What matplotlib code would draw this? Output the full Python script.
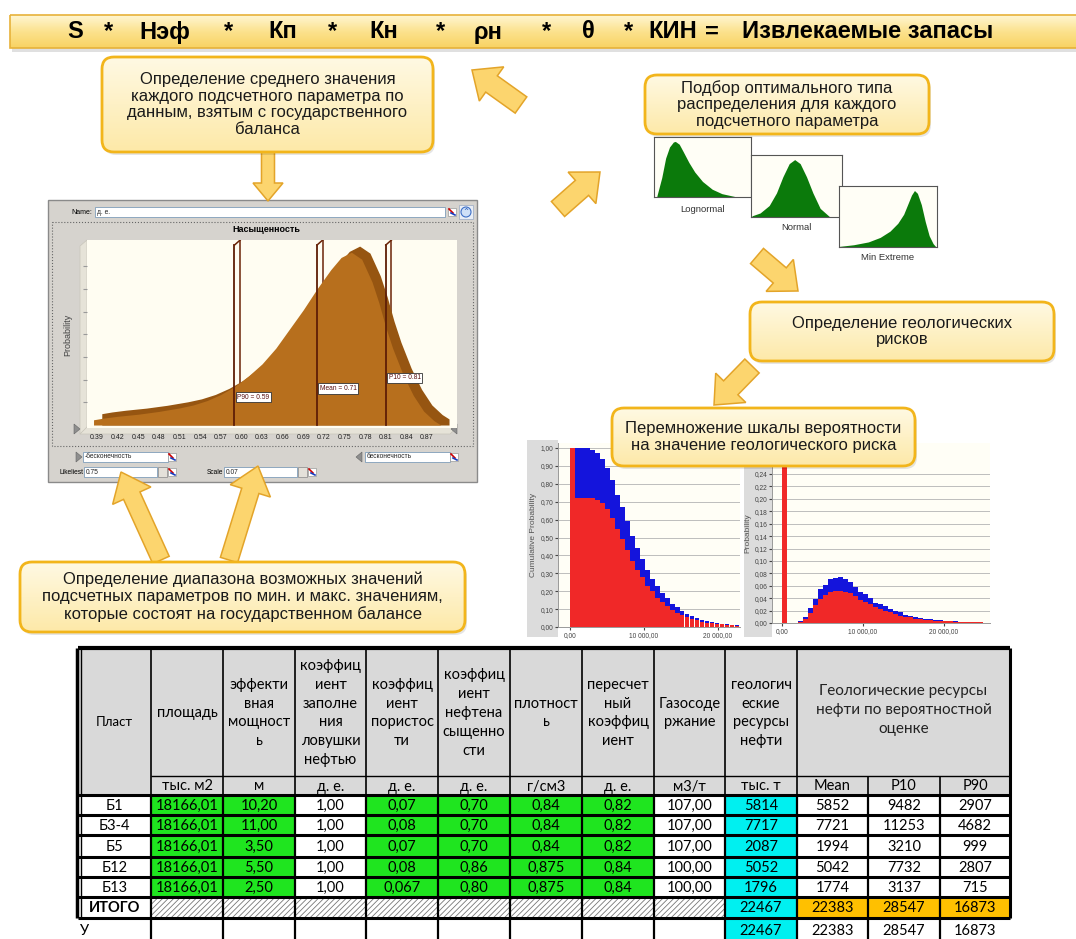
import numpy as np
import matplotlib.pyplot as plt
from matplotlib.patches import Rectangle, FancyBboxPatch, Polygon, Circle
from matplotlib.colors import LinearSegmentedColormap

W, H = 1076, 939
plt.rcParams['font.family'] = ['Liberation Sans', 'DejaVu Sans']
plt.rcParams['hatch.linewidth'] = 0.6

# formula banner
formula_parts = ['S', '*', 'Нэф', '*', 'Кп', '*', 'Кн', '*', 'ρн', '*', 'θ', '*', 'КИН', '=']
formula_pos = [75, 108, 165, 228, 283, 333, 384, 440, 488, 546, 588, 628, 673, 712]
formula_result = 'Извлекаемые запасы'

# saturation distribution (Min Extreme)
sat_title = 'Насыщенность'
sat_x = [0.385, 0.40, 0.42, 0.45, 0.48, 0.51, 0.53, 0.55, 0.57, 0.59, 0.61, 0.63, 0.65, 0.67, 0.69,
         0.71, 0.73, 0.745, 0.76, 0.775, 0.79, 0.80, 0.81, 0.82, 0.835, 0.85, 0.865, 0.88, 0.89]
sat_p = [0.03, 0.04, 0.05, 0.062, 0.078, 0.098, 0.115, 0.14, 0.175, 0.22, 0.28, 0.35, 0.44, 0.55, 0.66,
         0.78, 0.89, 0.96, 0.99, 0.95, 0.82, 0.70, 0.56, 0.44, 0.29, 0.17, 0.08, 0.025, 0.0]
sat_ticks = [0.39, 0.42, 0.45, 0.48, 0.51, 0.54, 0.57, 0.60, 0.63, 0.66, 0.69, 0.72, 0.75, 0.78, 0.81, 0.84, 0.87]
sat_marks = ['P90', 'Mean', 'P10']
sat_mark_vals = [0.59, 0.71, 0.81]
likeliest = '0.75'
scale = '0.07'

# distribution type thumbnails (fraction of width, relative height)
logn_x = [0.03, 0.08, 0.12, 0.16, 0.20, 0.22, 0.26, 0.30, 0.36, 0.42, 0.50, 0.60, 0.70, 0.83]
logn_y = [0.02, 0.35, 0.70, 0.90, 0.99, 1.00, 0.95, 0.82, 0.62, 0.45, 0.28, 0.14, 0.06, 0.01]
norm_x = [0.01, 0.10, 0.20, 0.28, 0.35, 0.42, 0.48, 0.54, 0.61, 0.68, 0.76, 0.86]
norm_y = [0.02, 0.07, 0.20, 0.42, 0.70, 0.93, 1.00, 0.93, 0.70, 0.42, 0.15, 0.01]
mext_x = [0.0, 0.15, 0.30, 0.42, 0.52, 0.60, 0.66, 0.70, 0.74, 0.77, 0.80, 0.84, 0.88, 0.92, 0.96, 0.99]
mext_y = [0.01, 0.04, 0.09, 0.17, 0.28, 0.42, 0.58, 0.75, 0.92, 1.00, 0.95, 0.75, 0.45, 0.20, 0.06, 0.0]

# reserves simulation: cumulative probability (total / with risk)
cum_total = [1.00, 1.00, 1.00, 1.00, 0.99, 0.97, 0.94, 0.89, 0.82, 0.74, 0.67, 0.59, 0.51, 0.44, 0.38, 0.32, 0.27,
             0.23, 0.19, 0.16, 0.13, 0.11, 0.09, 0.075, 0.06, 0.05, 0.04, 0.034, 0.028, 0.023, 0.019, 0.016, 0.013, 0.01]
cum_risk = [1.00, 0.72, 0.72, 0.72, 0.72, 0.71, 0.69, 0.66, 0.61, 0.55, 0.49, 0.43, 0.37, 0.32, 0.28, 0.23, 0.20,
            0.16, 0.14, 0.115, 0.095, 0.08, 0.065, 0.055, 0.045, 0.037, 0.03, 0.025, 0.02, 0.017, 0.014, 0.012, 0.01, 0.008]
cum_bin = 675

# reserves simulation: probability per bin
zero_prob = 0.28
prob_total = [0.003, 0.01, 0.024, 0.039, 0.055, 0.062, 0.071, 0.072, 0.074, 0.071, 0.066, 0.058, 0.05, 0.046, 0.04,
              0.033, 0.03, 0.027, 0.023, 0.019, 0.017, 0.013, 0.012, 0.01, 0.008, 0.007, 0.006, 0.005, 0.005, 0.004,
              0.003, 0.003, 0.002, 0.002, 0.002, 0.001, 0.001]
prob_risk = [0.002, 0.006, 0.016, 0.029, 0.039, 0.045, 0.05, 0.052, 0.052, 0.05, 0.048, 0.043, 0.037, 0.034, 0.03,
             0.025, 0.022, 0.02, 0.017, 0.014, 0.012, 0.01, 0.009, 0.007, 0.006, 0.005, 0.0045, 0.004, 0.004, 0.003,
             0.0025, 0.002, 0.002, 0.0015, 0.0015, 0.001, 0.001]
prob_start, prob_bin = 1975, 617

# table
head = ['Пласт', 'площадь', 'эффекти\nвная\nмощност\nь', 'коэффиц\nиент\nзаполне\nния\nловушки\nнефтью',
        'коэффиц\nиент\nпористос\nти', 'коэффиц\nиент\nнефтена\nсыщенно\nсти', 'плотност\nь',
        'пересчет\nный\nкоэффиц\nиент', 'Газосоде\nржание', 'геологич\nеские\nресурсы\nнефти']
head_prob = 'Геологические ресурсы\nнефти по вероятностной\nоценке'
units = ['тыс. м2', 'м', 'д. е.', 'д. е.', 'д. е.', 'г/см3', 'д. е.', 'м3/т', 'тыс. т', 'Mean', 'P10', 'P90']
layers = ['Б1', 'Б3-4', 'Б5', 'Б12', 'Б13']
area = ['18166,01', '18166,01', '18166,01', '18166,01', '18166,01']
thickness = ['10,20', '11,00', '3,50', '5,50', '2,50']
fill_coef = ['1,00', '1,00', '1,00', '1,00', '1,00']
porosity = ['0,07', '0,08', '0,07', '0,08', '0,067']
saturation = ['0,70', '0,70', '0,70', '0,86', '0,80']
density = ['0,84', '0,84', '0,84', '0,875', '0,875']
conversion = ['0,82', '0,82', '0,82', '0,84', '0,84']
gas = ['107,00', '107,00', '107,00', '100,00', '100,00']
geo_res = [5814, 7717, 2087, 5052, 1796]
res_mean = [5852, 7721, 1994, 5042, 1774]
res_p10 = [9482, 11253, 3210, 7732, 3137]
res_p90 = [2907, 4682, 999, 2807, 715]
total = [22467, 22383, 28547, 16873]

GREEN, CYAN, ORANGE, GREY = '#1FE51F', '#00F0F0', '#FFC000', '#D9D9D9'

fig = plt.figure(figsize=(W / 100, H / 100), dpi=100)
base = fig.add_axes([0, 0, 1, 1])
base.set_xlim(0, W)
base.set_ylim(H, 0)
base.axis('off')


def px_axes(x0, y0, x1, y1, **kw):
    return fig.add_axes([x0 / W, 1 - y1 / H, (x1 - x0) / W, (y1 - y0) / H], **kw)


def icon(ax, x, y):
    ax.add_patch(Rectangle((x - 4, y - 4), 8, 8, fc='white', ec='#999', lw=0.5))
    ax.plot([x - 3, x + 1], [y - 3, y + 1], color='#C00', lw=1.2)
    ax.plot([x - 1, x + 3], [y + 1, y + 3], color='#1A3FBF', lw=1.2)


def tri(ax, x, y, right=True):
    d = 6 if right else -6
    ax.add_patch(Polygon([(x, y - 5), (x + d, y), (x, y + 5)], fc='#8E8E8E', ec='#666', lw=0.4))


def field(ax, x0, y0, w, h, txt):
    ax.add_patch(Rectangle((x0, y0), w, h, fc='white', ec='#7F9DB9', lw=0.6))
    ax.text(x0 + 2, y0 + h / 2, txt, fontsize=4.8, va='center', color='#222')


# ---------- software window ----------
base.add_patch(Rectangle((48, 200), 429, 282, fc='#D6D3CE', ec='#8A8A8A', lw=1))
base.text(92, 212, 'Name:', fontsize=5, ha='right', va='center')
field(base, 95, 207, 350, 10, 'д. е.')
icon(base, 452, 212)
base.add_patch(Rectangle((459, 205), 14, 14, fc='#E9EEF6', ec='#9AA9C2', lw=0.5))
base.add_patch(Circle((466, 212), 5, fc='#CFE0F7', ec='#3D6FC6', lw=0.8))
base.text(466, 212, '⌃', fontsize=6, ha='center', va='center', color='#2A5DB8', family='DejaVu Sans')
base.add_patch(Rectangle((52, 222), 421, 224, fill=False, ls=':', ec='#666', lw=0.8))
base.text(266, 229, sat_title, fontsize=6.5, weight='bold', ha='center', va='center')
base.text(68, 335, 'Probability', rotation=90, fontsize=6.5, color='#444', ha='center', va='center')
base.add_patch(Polygon([(80, 246), (87, 240), (87, 428), (80, 434)], fc='#E6E3D8', ec='#C8C5BA', lw=0.5))
base.add_patch(Polygon([(80, 434), (87, 427), (457, 427), (450, 434)], fc='#E6E3D8', ec='#C8C5BA', lw=0.5))
tri(base, 74, 429, True)
tri(base, 457, 429, False)

dax = px_axes(87, 240, 457, 428)
dax.set_facecolor('#FFFDF2')
sx, sp = np.array(sat_x), np.array(sat_p)
dax.fill_between(sx + 0.012, sp + 0.035, 0, color='#965511', lw=0, zorder=2)
dax.fill_between(sx, sp, 0, color='#B76F1D', lw=0, zorder=3)
for name, v, ly in zip(sat_marks, sat_mark_vals, [0.16, 0.21, 0.27]):
    dax.plot([v + 0.0083, v + 0.0083], [0.2, 1.06], color='#6B2408', lw=1.1, zorder=1.5)
    dax.plot([v, v], [0, 1.031], color='#5E1E06', lw=1.3, zorder=4)
    dax.plot([v, v + 0.0083], [1.031, 1.06], color='#6B2408', lw=1.1, zorder=4)
    dax.text(v + 0.004, ly, f'{name} = {v:.2f}', fontsize=4.8, color='#5A1010', va='center', zorder=5,
             bbox=dict(fc='white', ec='#333', lw=0.6, pad=1.2))
dax.set_xlim(0.3755, 0.9136)
dax.set_ylim(-0.017, 1.06)
dax.set_xticks(sat_ticks, labels=[f'{t:.2f}' for t in sat_ticks], fontsize=5)
dax.set_yticks(np.arange(0.13, 1.0, 0.13))
dax.tick_params(axis='x', length=0, pad=4, colors='#222')
dax.tick_params(axis='y', length=3, color='#999', labelleft=False)
for s in dax.spines.values():
    s.set_visible(False)

tri(base, 76, 457, True)
field(base, 83, 452, 85, 10, '-бесконечность')
icon(base, 172, 457)
tri(base, 362, 457, False)
field(base, 365, 452, 85, 10, 'бесконечность')
icon(base, 454, 457)
base.text(83, 472, 'Likeliest', fontsize=4.8, ha='right', va='center')
field(base, 84, 467, 73, 10, likeliest)
base.add_patch(Rectangle((158, 467), 9, 10, fc='#E4E1DA', ec='#888', lw=0.5))
icon(base, 172, 472)
base.text(223, 472, 'Scale', fontsize=4.8, ha='right', va='center')
field(base, 224, 467, 73, 10, scale)
base.add_patch(Rectangle((298, 467), 9, 10, fc='#E4E1DA', ec='#888', lw=0.5))
icon(base, 312, 472)

# ---------- distribution thumbnails ----------
for (x0, y0, x1, y1), xs, ys, lab, ly in [((654, 137, 751, 197), logn_x, logn_y, 'Lognormal', 209),
                                          ((751, 155, 842, 217), norm_x, norm_y, 'Normal', 228),
                                          ((839, 186, 937, 247), mext_x, mext_y, 'Min Extreme', 258)]:
    tax = px_axes(x0, y0, x1, y1)
    tax.set_facecolor('#FFFEF6')
    tax.fill_between(xs, ys, 0, color='#0B7A0B', lw=0)
    tax.set_xlim(0, 1)
    tax.set_ylim(0, 1.08)
    tax.set_xticks([])
    tax.set_yticks([])
    for s in tax.spines.values():
        s.set_color('#555')
        s.set_linewidth(0.8)
    base.text((x0 + x1) / 2, ly, lab, fontsize=6.8, ha='center', va='center', color='#333')

# ---------- simulation charts ----------
base.add_patch(Rectangle((527, 440), 31, 197, fc='#DCDCDC', lw=0))
base.add_patch(Rectangle((744, 440), 28, 197, fc='#DCDCDC', lw=0))


def style_hist(ax):
    ax.set_facecolor('#FFFEF6')
    ax.yaxis.grid(True, color='#BDBDBD', lw=0.7)
    ax.set_axisbelow(True)
    for k in ['top', 'right']:
        ax.spines[k].set_visible(False)
    for k in ['left', 'bottom']:
        ax.spines[k].set_color('#999')
        ax.spines[k].set_linewidth(0.7)
    ax.tick_params(labelsize=4.8, length=2, colors='#444', pad=1.5)


hax1 = px_axes(558, 443, 740, 627)
left1 = np.arange(len(cum_total)) * cum_bin
hax1.bar(left1, cum_total, width=cum_bin * 0.96, align='edge', color='#1414DC', lw=0)
hax1.bar(left1, cum_risk, width=cum_bin * 0.96, align='edge', color='#F02828', lw=0)
hax1.set_xlim(-1600, 23000)
hax1.set_ylim(0, 1.028)
yt = np.round(np.arange(0, 1.001, 0.1), 2)
hax1.set_yticks(yt, labels=[f'{v:.2f}'.replace('.', ',') for v in yt])
hax1.set_xticks([0, 10000, 20000], labels=['0,00', '10 000,00', '20 000,00'])
hax1.set_ylabel('Cumulative Probability', fontsize=6, color='#555', labelpad=2)
style_hist(hax1)

hax2 = px_axes(772, 443, 990, 623)
left2 = prob_start + np.arange(len(prob_total)) * prob_bin
hax2.bar([0], [zero_prob], width=650, align='edge', color='#F02828', lw=0)
hax2.bar(left2, prob_total, width=prob_bin * 0.96, align='edge', color='#1414DC', lw=0)
hax2.bar(left2, prob_risk, width=prob_bin * 0.96, align='edge', color='#F02828', lw=0)
hax2.set_xlim(-1235, 25680)
hax2.set_ylim(0, 0.29)
yt2 = np.round(np.arange(0, 0.241, 0.02), 2)
hax2.set_yticks(yt2, labels=[f'{v:.2f}'.replace('.', ',') for v in yt2])
hax2.set_xticks([0, 10000, 20000], labels=['0,00', '10 000,00', '20 000,00'])
hax2.set_ylabel('Probability', fontsize=6, color='#555', labelpad=2)
style_hist(hax2)

# ---------- table ----------
cx = [78, 151, 223, 295, 366, 438, 510, 582, 654, 725, 797, 868, 940, 1010]
ry = [648, 776, 795, 815, 835, 857, 877, 897, 918, 942]
tfont = ['Lato', 'DejaVu Sans']
fs_cell = 10.5
base.add_patch(Rectangle((cx[0], ry[0]), cx[-1] - cx[0], ry[2] - ry[0], fc=GREY, lw=0))
cols = [layers, area, thickness, fill_coef, porosity, saturation, density, conversion, gas,
        geo_res, res_mean, res_p10, res_p90]
fills = ['white', GREEN, GREEN, 'white', GREEN, GREEN, GREEN, GREEN, 'white', CYAN, 'white', 'white', 'white']
for r in range(len(layers)):
    y0, y1 = ry[2 + r], ry[3 + r]
    for c in range(13):
        base.add_patch(Rectangle((cx[c], y0), cx[c + 1] - cx[c], y1 - y0, fc=fills[c], lw=0))
        base.text((cx[c] + cx[c + 1]) / 2, (y0 + y1) / 2 + 1, str(cols[c][r]), fontsize=fs_cell,
                  ha='center', va='center', family=tfont)
# total row
y0, y1 = ry[7], ry[8]
base.text((cx[0] + cx[1]) / 2, (y0 + y1) / 2 + 1, 'ИТОГО', fontsize=fs_cell, weight='bold',
          ha='center', va='center', family=tfont)
for c in range(1, 9):
    base.add_patch(Rectangle((cx[c], y0), cx[c + 1] - cx[c], y1 - y0, fc='white', ec='#777',
                             hatch='//////', lw=0))
for c, v, fc in zip(range(9, 13), total, [CYAN, ORANGE, ORANGE, ORANGE]):
    base.add_patch(Rectangle((cx[c], y0), cx[c + 1] - cx[c], y1 - y0, fc=fc, lw=0))
    base.text((cx[c] + cx[c + 1]) / 2, (y0 + y1) / 2 + 1, str(v), fontsize=fs_cell,
              ha='center', va='center', family=tfont)
# last row
y0, y1 = ry[8], ry[9]
base.add_patch(Rectangle((cx[9], y0), cx[10] - cx[9], y1 - y0, fc=CYAN, lw=0))
base.text(cx[0] + 2, (y0 + y1) / 2 + 1, 'У', fontsize=fs_cell, ha='left', va='center', family=tfont)
for c, v in zip(range(9, 13), total):
    base.text((cx[c] + cx[c + 1]) / 2, (y0 + y1) / 2 + 1, str(v), fontsize=fs_cell,
              ha='center', va='center', family=tfont)

# header texts
base.text((cx[0] + cx[1]) / 2, (ry[0] + ry[2]) / 2, head[0], fontsize=9.5, ha='center', va='center', family=tfont)
for c in range(1, 10):
    base.text((cx[c] + cx[c + 1]) / 2, (ry[0] + ry[1]) / 2 + 1, head[c], fontsize=10.5, linespacing=1.45,
              ha='center', va='center', family=tfont)
base.text((cx[10] + cx[13]) / 2, (ry[0] + ry[1]) / 2 - 2, head_prob, fontsize=11, linespacing=1.45,
          ha='center', va='center', family=tfont, color='#222')
for c in range(1, 13):
    base.text((cx[c] + cx[c + 1]) / 2, (ry[1] + ry[2]) / 2 + 1, units[c - 1], fontsize=10.5,
              ha='center', va='center', family=tfont)

# grid lines
k = dict(color='black')
base.hlines(ry[0], cx[0], cx[-1], lw=3, **k)
base.vlines(cx[1:11], ry[0], ry[1], lw=1.2, **k)
base.vlines(cx[-1], ry[0], ry[8], lw=2.2, **k)
base.hlines(ry[1], cx[1], cx[-1], lw=1, **k)
base.vlines(cx[1:13], ry[1], ry[2], lw=1.2, **k)
base.vlines(cx[1:13], ry[2], ry[9], lw=1.6, **k)
base.hlines(ry[2:9], cx[0], cx[-1], lw=2.2, **k)
base.vlines(76.5, ry[0], ry[8], lw=2.5, **k)
base.vlines(80.5, ry[0], ry[8], lw=1, **k)

# ---------- overlay: banner, arrows, callouts ----------
ov = fig.add_axes([0, 0, 1, 1], zorder=5)
ov.patch.set_visible(False)
ov.axis('off')
ov.set_xlim(0, W)
ov.set_ylim(H, 0)

box_cmap = LinearSegmentedColormap.from_list('box', ['#FFF9E3', '#FDE9A8'])
banner_cmap = LinearSegmentedColormap.from_list('banner', ['#FFF6D2', '#FCE28E', '#F8D263'])
grad = np.linspace(0, 1, 64).reshape(-1, 1)


def gradient_patch(ax, patch, x0, y0, x1, y1, cmap, z):
    ax.add_patch(patch)
    im = ax.imshow(grad, cmap=cmap, extent=(x0, x1, y1, y0), aspect='auto', zorder=z,
                   interpolation='bilinear')
    im.set_clip_path(patch)


# banner
ov.add_patch(Rectangle((12, 18), W - 10, 34, fc='#000', alpha=0.12, lw=0, zorder=1))
bp = Rectangle((10, 15), W - 8, 33, fc='none', ec='#E7B23A', lw=1.2, zorder=3)
gradient_patch(ov, bp, 10, 15, W, 48, banner_cmap, 2)
for part, x in zip(formula_parts, formula_pos):
    ov.text(x, 32, part, fontsize=17, weight='bold', ha='center', va='center', zorder=4)
ov.text(742, 32, formula_result, fontsize=17, weight='bold', ha='left', va='center', zorder=4)


def block_arrow(ax, x0, y0, x1, y1, shaft, head, hl):
    t, p = np.array([x0, y0], float), np.array([x1, y1], float)
    u = (p - t) / np.hypot(*(p - t))
    n = np.array([-u[1], u[0]])
    neck = p - u * hl
    pts = [t + n * shaft / 2, neck + n * shaft / 2, neck + n * head / 2, p,
           neck - n * head / 2, neck - n * shaft / 2, t - n * shaft / 2]
    ax.add_patch(Polygon(pts, closed=True, fc='#FCD56E', ec='#E3A429', lw=1.1, zorder=6, joinstyle='miter'))


block_arrow(ov, 268, 150, 268, 201, 13, 30, 18)
block_arrow(ov, 521, 105, 472, 70, 20, 42, 24)
block_arrow(ov, 558, 209, 600, 172, 20, 42, 24)
block_arrow(ov, 757, 256, 798, 291, 20, 42, 24)
block_arrow(ov, 752, 366, 714, 405, 20, 42, 24)
block_arrow(ov, 161, 560, 121, 472, 18, 42, 26)
block_arrow(ov, 229, 560, 258, 466, 18, 42, 26)


def callout(ax, x0, y0, x1, y1, text, fs=12):
    w, h = x1 - x0, y1 - y0
    style = 'round,pad=0,rounding_size=12'
    ax.add_patch(FancyBboxPatch((x0 + 2, y0 + 3), w, h, boxstyle=style, fc='#000', alpha=0.10, lw=0, zorder=7))
    p = FancyBboxPatch((x0, y0), w, h, boxstyle=style, fc='none', ec='#F2B51B', lw=2, zorder=9)
    gradient_patch(ax, p, x0, y0, x1, y1, box_cmap, 8)
    ax.text((x0 + x1) / 2, (y0 + y1) / 2, text, fontsize=fs, ha='center', va='center',
            color='#1A1A1A', linespacing=1.15, zorder=10)


callout(ov, 102, 57, 433, 152,
        'Определение среднего значения\nкаждого подсчетного параметра по\nданным, взятым с государственного\nбаланса')
callout(ov, 645, 75, 929, 134, 'Подбор оптимального типа\nраспределения для каждого\nподсчетного параметра')
callout(ov, 750, 302, 1054, 361, 'Определение геологических\nрисков')
callout(ov, 612, 408, 915, 466, 'Перемножение шкалы вероятности\nна значение геологического риска')
callout(ov, 20, 562, 465, 632, 'Определение диапазона возможных значений\nподсчетных параметров по мин. и макс. значениям,\n'
                               'которые состоят на государственном балансе')
ov.set_xlim(0, W)
ov.set_ylim(H, 0)

fig.savefig('out.png', dpi=100)
